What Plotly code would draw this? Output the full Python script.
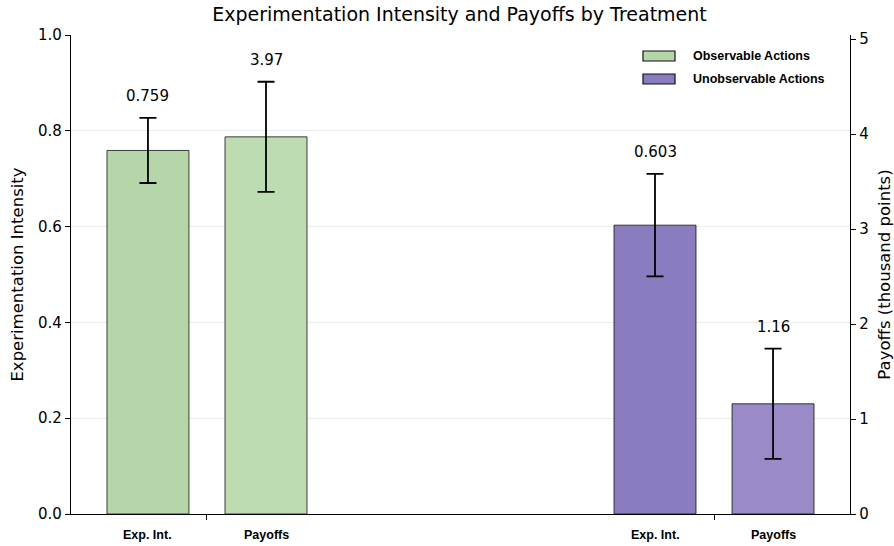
import plotly.graph_objects as go

# ---- data ----
treatments = ["Observable Actions", "Unobservable Actions"]
measures = ["Exp. Int.", "Payoffs"]
exp_intensity = [0.759, 0.603]
exp_err = [0.068, 0.107]
payoffs = [3.97, 1.16]          # thousand points
payoff_err = [0.58, 0.58]

exp_colors = ["#b5d6a8", "#8b7bbf"]
pay_colors = ["#bddcb1", "#9a8ac7"]

group_pos = [0, 1]
offset = 0.1164
bar_w = 0.1617

exp_x = [g - offset for g in group_pos]
pay_x = [g + offset for g in group_pos]

fig = go.Figure()

fig.add_trace(go.Bar(
    x=exp_x, y=exp_intensity, width=bar_w,
    marker=dict(color=exp_colors, line=dict(color="#111111", width=0.8)),
    error_y=dict(type="data", array=exp_err, color="#000000", thickness=1.8, width=8.5),
    yaxis="y", showlegend=False, name="Exp. Int.",
))
fig.add_trace(go.Bar(
    x=pay_x, y=payoffs, width=bar_w,
    marker=dict(color=pay_colors, line=dict(color="#111111", width=0.8)),
    error_y=dict(type="data", array=payoff_err, color="#000000", thickness=1.8, width=8.5),
    yaxis="y2", showlegend=False, name="Payoffs",
))

font_main = "DejaVu Sans, sans-serif"
font_bold = "Liberation Sans, Arial, sans-serif"

annotations = []
# value labels above error bars
for x, v, e in zip(exp_x, exp_intensity, exp_err):
    annotations.append(dict(x=x, y=v + e, xref="x", yref="y", text=f"{v:.3f}",
                            showarrow=False, yanchor="middle", yshift=22,
                            font=dict(family=font_main, size=15, color="#000")))
for x, v, e in zip(pay_x, payoffs, payoff_err):
    annotations.append(dict(x=x, y=v + e, xref="x", yref="y2", text=f"{v:.2f}",
                            showarrow=False, yanchor="middle", yshift=22,
                            font=dict(family=font_main, size=15, color="#000")))
# category labels below bars
for xs, lab in ((exp_x, measures[0]), (pay_x, measures[1])):
    for x in xs:
        annotations.append(dict(x=x, y=-0.0438, xref="x", yref="paper", text=f"<b>{lab}</b>",
                                showarrow=False, yanchor="middle",
                                font=dict(family=font_bold, size=12.5, color="#000")))

# custom legend (patches + labels)
W, H = 894, 546
l, r, t, b = 71, 44, 35, 32
pw, ph = W - l - r, H - t - b
def px2paper(xp, yp):
    return (xp - l) / pw, 1 - (yp - t) / ph

shapes = []
leg_rows = [(56, exp_colors[0], treatments[0]), (79, exp_colors[1], treatments[1])]
for yc, col, lab in leg_rows:
    x0, y0 = px2paper(643, yc - 5)
    x1, y1 = px2paper(675, yc + 5)
    shapes.append(dict(type="rect", xref="paper", yref="paper", x0=x0, x1=x1, y0=y1, y1=y0,
                       fillcolor=col, line=dict(color="#111111", width=1.2)))
    tx, ty = px2paper(691, yc)
    annotations.append(dict(x=tx, y=ty, xref="paper", yref="paper", text=f"<b>{lab}</b>",
                            showarrow=False, xanchor="left", yanchor="middle",
                            font=dict(family=font_bold, size=12.5, color="#000")))

fig.update_layout(
    width=W, height=H,
    margin=dict(l=l, r=r, t=t, b=b, autoexpand=False),
    paper_bgcolor="white", plot_bgcolor="white",
    barmode="overlay",
    title=dict(text="Experimentation Intensity and Payoffs by Treatment",
               x=0.514, xanchor="center", y=0.973, yanchor="middle",
               font=dict(family=font_main, size=19, color="#000")),
    font=dict(family=font_main, color="#000"),
    xaxis=dict(range=[-0.2682, 1.2682], tickvals=group_pos, ticktext=["", ""],
               ticks="outside", ticklen=5, tickcolor="#000", showgrid=False,
               showline=True, linecolor="#000", linewidth=1.3, zeroline=False,
               automargin=False),
    yaxis=dict(range=[0, 1], dtick=0.2, tickformat=".1f", automargin=False,
               title=dict(text="Experimentation Intensity", standoff=10,
                          font=dict(family=font_main, size=16.5)),
               tickfont=dict(family=font_main, size=15),
               ticks="outside", ticklen=5, tickcolor="#000",
               showgrid=True, gridcolor="#ececec", gridwidth=0.8,
               showline=True, linecolor="#000", linewidth=1.3, zeroline=False),
    yaxis2=dict(range=[0, 479 / 95], tickvals=[0, 1, 2, 3, 4, 5], automargin=False,
                overlaying="y", side="right",
                title=dict(text="Payoffs (thousand points)", standoff=10,
                           font=dict(family=font_main, size=16.5)),
                tickfont=dict(family=font_main, size=15),
                ticks="outside", ticklen=5, tickcolor="#000",
                showgrid=False, showline=True, linecolor="#000", linewidth=1.3,
                zeroline=False),
    annotations=annotations,
    shapes=shapes,
)

fig.write_html("out.html", config={"displayModeBar": False},
               post_script="document.body.style.margin='0';")
